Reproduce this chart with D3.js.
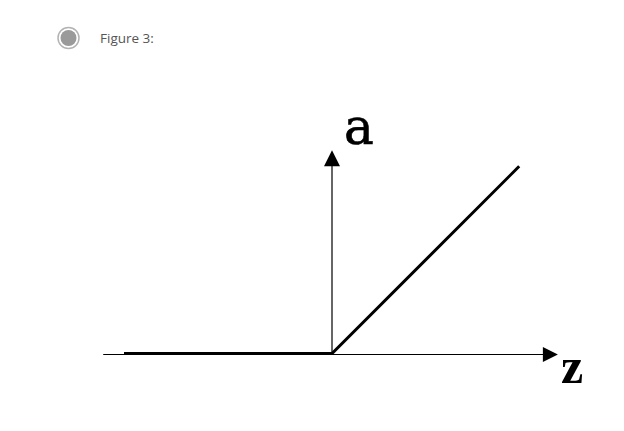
<!DOCTYPE html>
<html><head><meta charset="utf-8">
<script src="https://cdn.jsdelivr.net/npm/d3@7"></script>
<style>body{margin:0;background:#fff;}svg{display:block;}</style>
</head><body>
<script>
// Data
const caption = "Figure 3:";
const reluZ = [-5, 0, 4.5];
const reluA = [0, 0, 4.5];
const zAxisRange = [-5.5, 5.43];
const aAxisRange = [0, 4.9];
const zLabel = "z";
const aLabel = "a";

const W = 624, H = 431;
const svg = d3.select("body").append("svg").attr("width", W).attr("height", H);

// radio button + caption
svg.append("circle").attr("cx", 68.5).attr("cy", 38).attr("r", 10.5)
  .attr("fill", "#fff").attr("stroke", "#b3b3b3").attr("stroke-width", 1.5);
svg.append("circle").attr("cx", 68.5).attr("cy", 38).attr("r", 8)
  .attr("fill", "#9a9a9a");
svg.append("text").attr("x", 100).attr("y", 43).text(caption)
  .attr("font-family", "Open Sans").attr("font-size", 13.5).attr("fill", "#555");

const x = d3.scaleLinear().domain([0, 1]).range([332, 373.6]);
const y = d3.scaleLinear().domain([0, 1]).range([354, 312.4]);

// axes
svg.append("line").attr("x1", x(zAxisRange[0])).attr("x2", x(zAxisRange[1]) - 14)
  .attr("y1", y(0) + 0.5).attr("y2", y(0) + 0.5).attr("stroke", "#000").attr("stroke-width", 1.2);
svg.append("path")
  .attr("d", `M${x(zAxisRange[1])},${y(0)+0.5} L${x(zAxisRange[1])-15},${y(0)+0.5-7.5} L${x(zAxisRange[1])-15},${y(0)+0.5+7.5} Z`)
  .attr("fill", "#000");
svg.append("line").attr("x1", x(0)).attr("x2", x(0))
  .attr("y1", y(0)).attr("y2", y(aAxisRange[1]) + 14).attr("stroke", "#000").attr("stroke-width", 1.2);
svg.append("path")
  .attr("d", `M${x(0)},${y(aAxisRange[1])} L${x(0)-8},${y(aAxisRange[1])+16} L${x(0)+8},${y(aAxisRange[1])+16} Z`)
  .attr("fill", "#000");

// relu
svg.append("path").datum(reluZ.map((z, i) => [z, reluA[i]]))
  .attr("d", d3.line().x(d => x(d[0])).y(d => y(d[1]) - 0.5))
  .attr("fill", "none").attr("stroke", "#000").attr("stroke-width", 3)
  .attr("stroke-linejoin", "miter");

svg.append("text").attr("x", 344).attr("y", 144).text(aLabel)
  .attr("font-family", "DejaVu Serif").attr("font-size", 50).attr("fill", "#000")
  .attr("stroke", "#000").attr("stroke-width", 0.6);
svg.append("text").attr("x", 561).attr("y", 383).text(zLabel)
  .attr("font-family", "Liberation Serif").attr("font-weight", "bold").attr("font-size", 50).attr("fill", "#000");
</script>
</body></html>
